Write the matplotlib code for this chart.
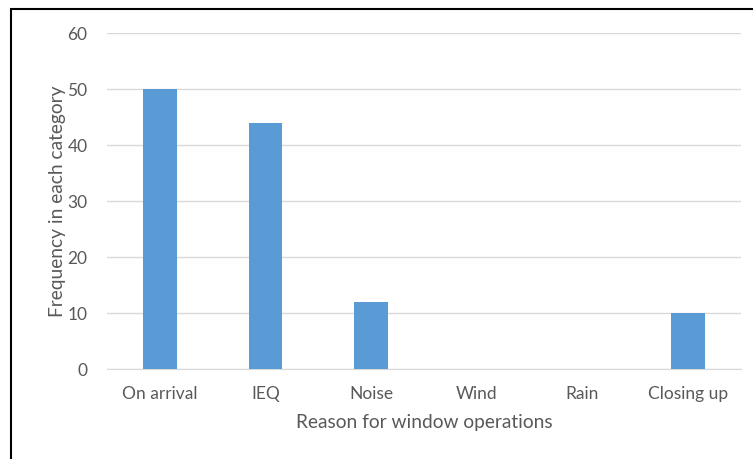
import matplotlib.pyplot as plt
from matplotlib.patches import Rectangle

reasons = ["On arrival", "IEQ", "Noise", "Wind", "Rain", "Closing up"]
frequency = [50, 44, 12, 0, 0, 10]
y_ticks = [0, 10, 20, 30, 40, 50, 60]

plt.rcParams['font.family'] = ['Lato', 'DejaVu Sans']

fig = plt.figure(figsize=(7.53, 4.59), dpi=100)
ax = fig.add_axes([107 / 753, 1 - 369 / 459, 634 / 753, 336 / 459])

x = list(range(len(reasons)))
ax.bar(x, frequency, width=0.32, color='#5B9BD5', zorder=3)

ax.set_xlim(-0.5, len(reasons) - 0.5)
ax.set_ylim(0, 60)
ax.set_yticks(y_ticks)
ax.set_xticks(x)
ax.set_xticklabels(reasons)
ax.yaxis.grid(True, color='#D9D9D9', linewidth=1, zorder=0)
for s in ['top', 'right', 'left']:
    ax.spines[s].set_visible(False)
ax.spines['bottom'].set_color('#D9D9D9')
ax.tick_params(axis='both', length=0, labelsize=12.5, colors='#595959')
ax.tick_params(axis='y', pad=14)
ax.tick_params(axis='x', pad=12)

ax.set_xlabel("Reason for window operations", fontsize=13.8, color='#595959', labelpad=9)
ax.set_ylabel("Frequency in each category", fontsize=13.8, color='#595959', labelpad=1)

# outer frame: only top and left edges are in view
fig.add_artist(Rectangle((11 / 753, -0.1), 1.1, 1 - 9 / 459 + 0.1,
                         transform=fig.transFigure, fill=False,
                         edgecolor='black', linewidth=1.5))

fig.savefig('out.png', dpi=100)
